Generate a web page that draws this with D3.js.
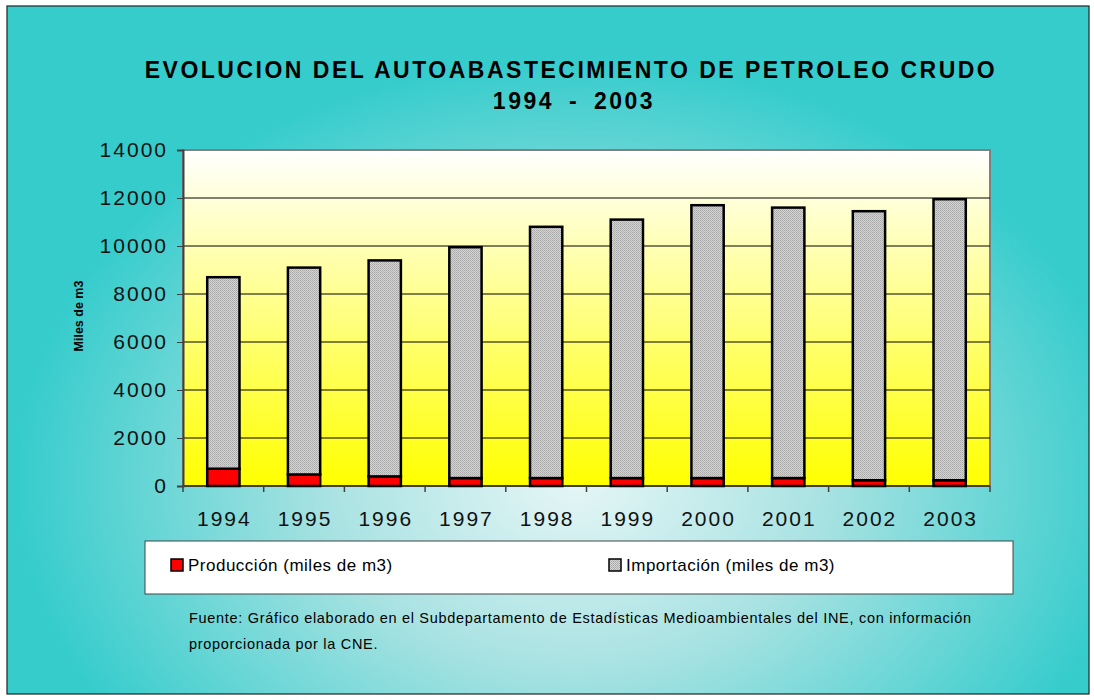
<!DOCTYPE html>
<html>
<head>
<meta charset="utf-8">
<script src="https://cdn.jsdelivr.net/npm/d3@7"></script>
<style>
  html, body { margin: 0; padding: 0; background: #fff; }
  svg { display: block; font-family: "Liberation Sans", Arial, sans-serif; }
</style>
</head>
<body>
<svg id="chart"></svg>
<script>
// Data
const years = ['1994', '1995', '1996', '1997', '1998', '1999', '2000', '2001', '2002', '2003'];
const produccion = [720, 480, 400, 330, 330, 330, 330, 330, 240, 240];
const importacion = [7980, 8620, 9000, 9620, 10470, 10770, 11370, 11270, 11210, 11710];
const yTicks = [0, 2000, 4000, 6000, 8000, 10000, 12000, 14000];
const seriesNames = ['Producción (miles de m3)', 'Importación (miles de m3)'];

const W = 1094, H = 700;
const plot = { left: 183, right: 990, top: 150, bottom: 486 };

const svg = d3.select('#chart').attr('width', W).attr('height', H);
const defs = svg.append('defs');

// outer teal background
const bg = defs.append('radialGradient').attr('id', 'bgGrad')
    .attr('gradientUnits', 'userSpaceOnUse')
    .attr('cx', 575).attr('cy', 480).attr('r', 560)
    .attr('gradientTransform', 'translate(575,480) scale(1,0.75) translate(-575,-480)');
bg.append('stop').attr('offset', '0%').attr('stop-color', '#e6f6f6');
bg.append('stop').attr('offset', '45%').attr('stop-color', '#a8e2e2');
bg.append('stop').attr('offset', '100%').attr('stop-color', '#36cccc');

// plot area: white top to yellow bottom
const pg = defs.append('linearGradient').attr('id', 'plotGrad')
    .attr('x1', 0).attr('y1', 0).attr('x2', 0).attr('y2', 1);
pg.append('stop').attr('offset', '0%').attr('stop-color', '#ffffff');
pg.append('stop').attr('offset', '100%').attr('stop-color', '#ffff00');

// fine grey hatch
const pat = defs.append('pattern').attr('id', 'hatch')
    .attr('width', 2).attr('height', 2).attr('patternUnits', 'userSpaceOnUse');
pat.append('rect').attr('width', 2).attr('height', 2).attr('fill', '#d4d4d4');
pat.append('rect').attr('width', 1).attr('height', 1).attr('fill', '#a8a8a8');
pat.append('rect').attr('x', 1).attr('y', 1).attr('width', 1).attr('height', 1).attr('fill', '#b4b4b4');

svg.append('rect').attr('x', 7).attr('y', 6).attr('width', 1082).attr('height', 688)
    .attr('fill', 'url(#bgGrad)').attr('stroke', '#222').attr('stroke-width', 1.2);

// title
svg.append('text').attr('x', 571).attr('y', 78).attr('text-anchor', 'middle')
    .attr('font-size', 23).attr('font-weight', 'bold').attr('letter-spacing', 2.5)
    .text('EVOLUCION DEL AUTOABASTECIMIENTO DE PETROLEO CRUDO');
svg.append('text').attr('x', 574).attr('y', 109).attr('text-anchor', 'middle')
    .attr('font-size', 23).attr('font-weight', 'bold').attr('letter-spacing', 2.5)
    .attr('word-spacing', 6)
    .text('1994 - 2003');

// scales
const x = d3.scaleBand().domain(years).range([plot.left, plot.right]).paddingInner(0.6).paddingOuter(0.3);
const y = d3.scaleLinear().domain([0, 14000]).range([plot.bottom, plot.top]);

svg.append('rect').attr('x', plot.left).attr('y', plot.top)
    .attr('width', plot.right - plot.left).attr('height', plot.bottom - plot.top)
    .attr('fill', 'url(#plotGrad)').attr('stroke', '#808080').attr('stroke-width', 2);

// gridlines
svg.append('g').selectAll('line').data(yTicks.filter(d => d > 0 && d < 14000)).join('line')
    .attr('x1', plot.left).attr('x2', plot.right)
    .attr('y1', d => y(d)).attr('y2', d => y(d))
    .attr('stroke', '#000').attr('stroke-width', 1);

// y axis
const yAxis = svg.append('g').attr('transform', `translate(${plot.left},0)`)
    .call(d3.axisLeft(y).tickValues(yTicks).tickSize(6).tickPadding(9).tickFormat(d3.format('d')));
yAxis.select('.domain').attr('stroke', '#404040').attr('stroke-width', 2);
yAxis.selectAll('.tick line').attr('stroke', '#404040');
yAxis.selectAll('.tick text').attr('font-size', 21).attr('fill', '#111').attr('letter-spacing', 2)
    .attr('font-family', '"Liberation Sans", Arial, sans-serif');

// x axis (ticks between categories)
const bounds = d3.range(years.length + 1).map(i => plot.left + i * (plot.right - plot.left) / years.length);
const xg = svg.append('g');
xg.append('line').attr('x1', plot.left).attr('x2', plot.right)
    .attr('y1', plot.bottom).attr('y2', plot.bottom).attr('stroke', '#404040').attr('stroke-width', 2);
xg.selectAll('line.tk').data(bounds).join('line').attr('class', 'tk')
    .attr('x1', d => d).attr('x2', d => d).attr('y1', plot.bottom).attr('y2', plot.bottom + 6)
    .attr('stroke', '#404040').attr('stroke-width', 1.5);
xg.selectAll('text').data(years).join('text')
    .attr('x', d => x(d) + x.bandwidth() / 2 + 1).attr('y', 526)
    .attr('text-anchor', 'middle').attr('font-size', 21).attr('letter-spacing', 2).attr('fill', '#111')
    .text(d => d);

// y title
svg.append('text').attr('transform', 'translate(83,316) rotate(-90)')
    .attr('text-anchor', 'middle').attr('font-size', 12.5).attr('font-weight', 'bold')
    .text('Miles de m3');

// bars
const stack = d3.stack().keys([0, 1]).value((d, k) => d[k]);
const rows = years.map((yr, i) => Object.assign([produccion[i], importacion[i]], { year: yr }));
const layers = stack(rows);
const fills = ['#ff0000', 'url(#hatch)'];
svg.append('g').selectAll('g').data(layers).join('g')
    .attr('fill', (d, i) => fills[i])
    .selectAll('rect').data(d => d).join('rect')
    .attr('x', d => x(d.data.year))
    .attr('width', x.bandwidth())
    .attr('y', d => y(d[1]))
    .attr('height', d => y(d[0]) - y(d[1]))
    .attr('stroke', '#000').attr('stroke-width', 2.5);

// legend
svg.append('rect').attr('x', 145).attr('y', 541).attr('width', 868).attr('height', 53)
    .attr('fill', '#fff').attr('stroke', '#444').attr('stroke-width', 1);
const legendX = [171, 609];
const lg = svg.append('g').selectAll('g').data(seriesNames).join('g')
    .attr('transform', (d, i) => `translate(${legendX[i]},559)`);
lg.append('rect').attr('width', 12).attr('height', 12)
    .attr('fill', (d, i) => fills[i]).attr('stroke', '#000').attr('stroke-width', 1.5);
lg.append('text').attr('x', 17).attr('y', 12).attr('font-size', 17).attr('letter-spacing', 0.5)
    .text(d => d);

// footnote
svg.append('text').attr('x', 189).attr('y', 623).attr('font-size', 14.5).attr('letter-spacing', 0.7)
    .text('Fuente: Gráfico elaborado en el Subdepartamento de Estadísticas Medioambientales del INE, con información');
svg.append('text').attr('x', 189).attr('y', 649).attr('font-size', 14.5).attr('letter-spacing', 0.7)
    .text('proporcionada por la CNE.');
</script>
</body>
</html>
